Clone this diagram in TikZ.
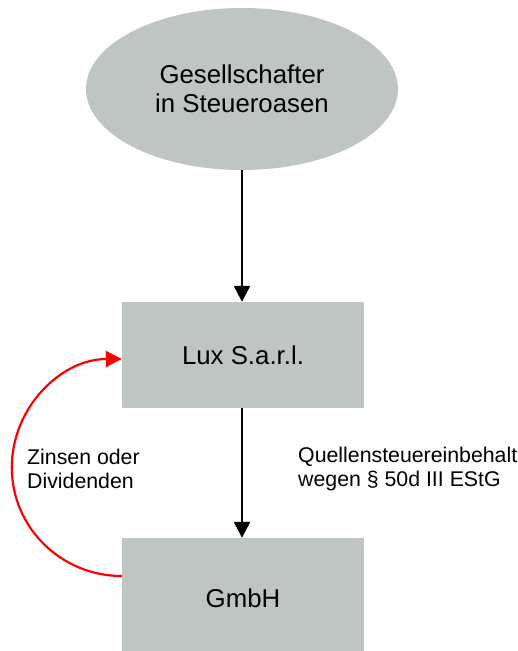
\documentclass[tikz,border=0pt]{standalone}
\usepackage{fontspec}
\setmainfont{Liberation Sans}
\usetikzlibrary{shapes.geometric,arrows.meta}
\definecolor{boxgrey}{RGB}{190,197,194}
\tikzset{
  entity/.style={fill=boxgrey, font=\fontsize{25.8}{29}\selectfont, inner sep=0pt, align=center},
  company/.style={entity, rectangle, minimum width=242pt, minimum height=106pt},
  flow/.style={line width=2.5pt, -{Triangle[length=16pt,width=16pt]}},
  remark/.style={font=\fontsize{21.3}{24}\selectfont, align=left, anchor=west, inner sep=0pt}
}
\begin{document}
\begin{tikzpicture}[x=1pt,y=-1pt]
  \useasboundingbox (0,0) rectangle (518,651);

  % Gesellschafter
  \node[entity, ellipse, minimum width=312pt, minimum height=162pt] (owner) at (242,89) {Gesellschafter\\in Steueroasen};

  % Lux und GmbH
  \node[company] (lux) at (243,355) {Lux S.a.r.l.};
  \node[company, minimum height=120pt] (gmbh) at (243,598) {GmbH};

  \draw[flow] (owner.south) -- (owner.south |- lux.north);
  \draw[flow] (owner.south |- lux.south) -- (owner.south |- gmbh.north);

  % Zinsen oder Dividenden
  \draw[flow, red, line width=2.2pt] ([yshift=22pt]gmbh.west) arc[start angle=270, end angle=90, x radius=110pt, y radius=108.5pt];

  \node[remark] (payment) at (27,469) {Zinsen oder\\Dividenden};
  \node[remark] (withholding) at (298,469) {Quellensteuereinbehalt\\wegen § 50d III EStG};
\end{tikzpicture}
\end{document}
